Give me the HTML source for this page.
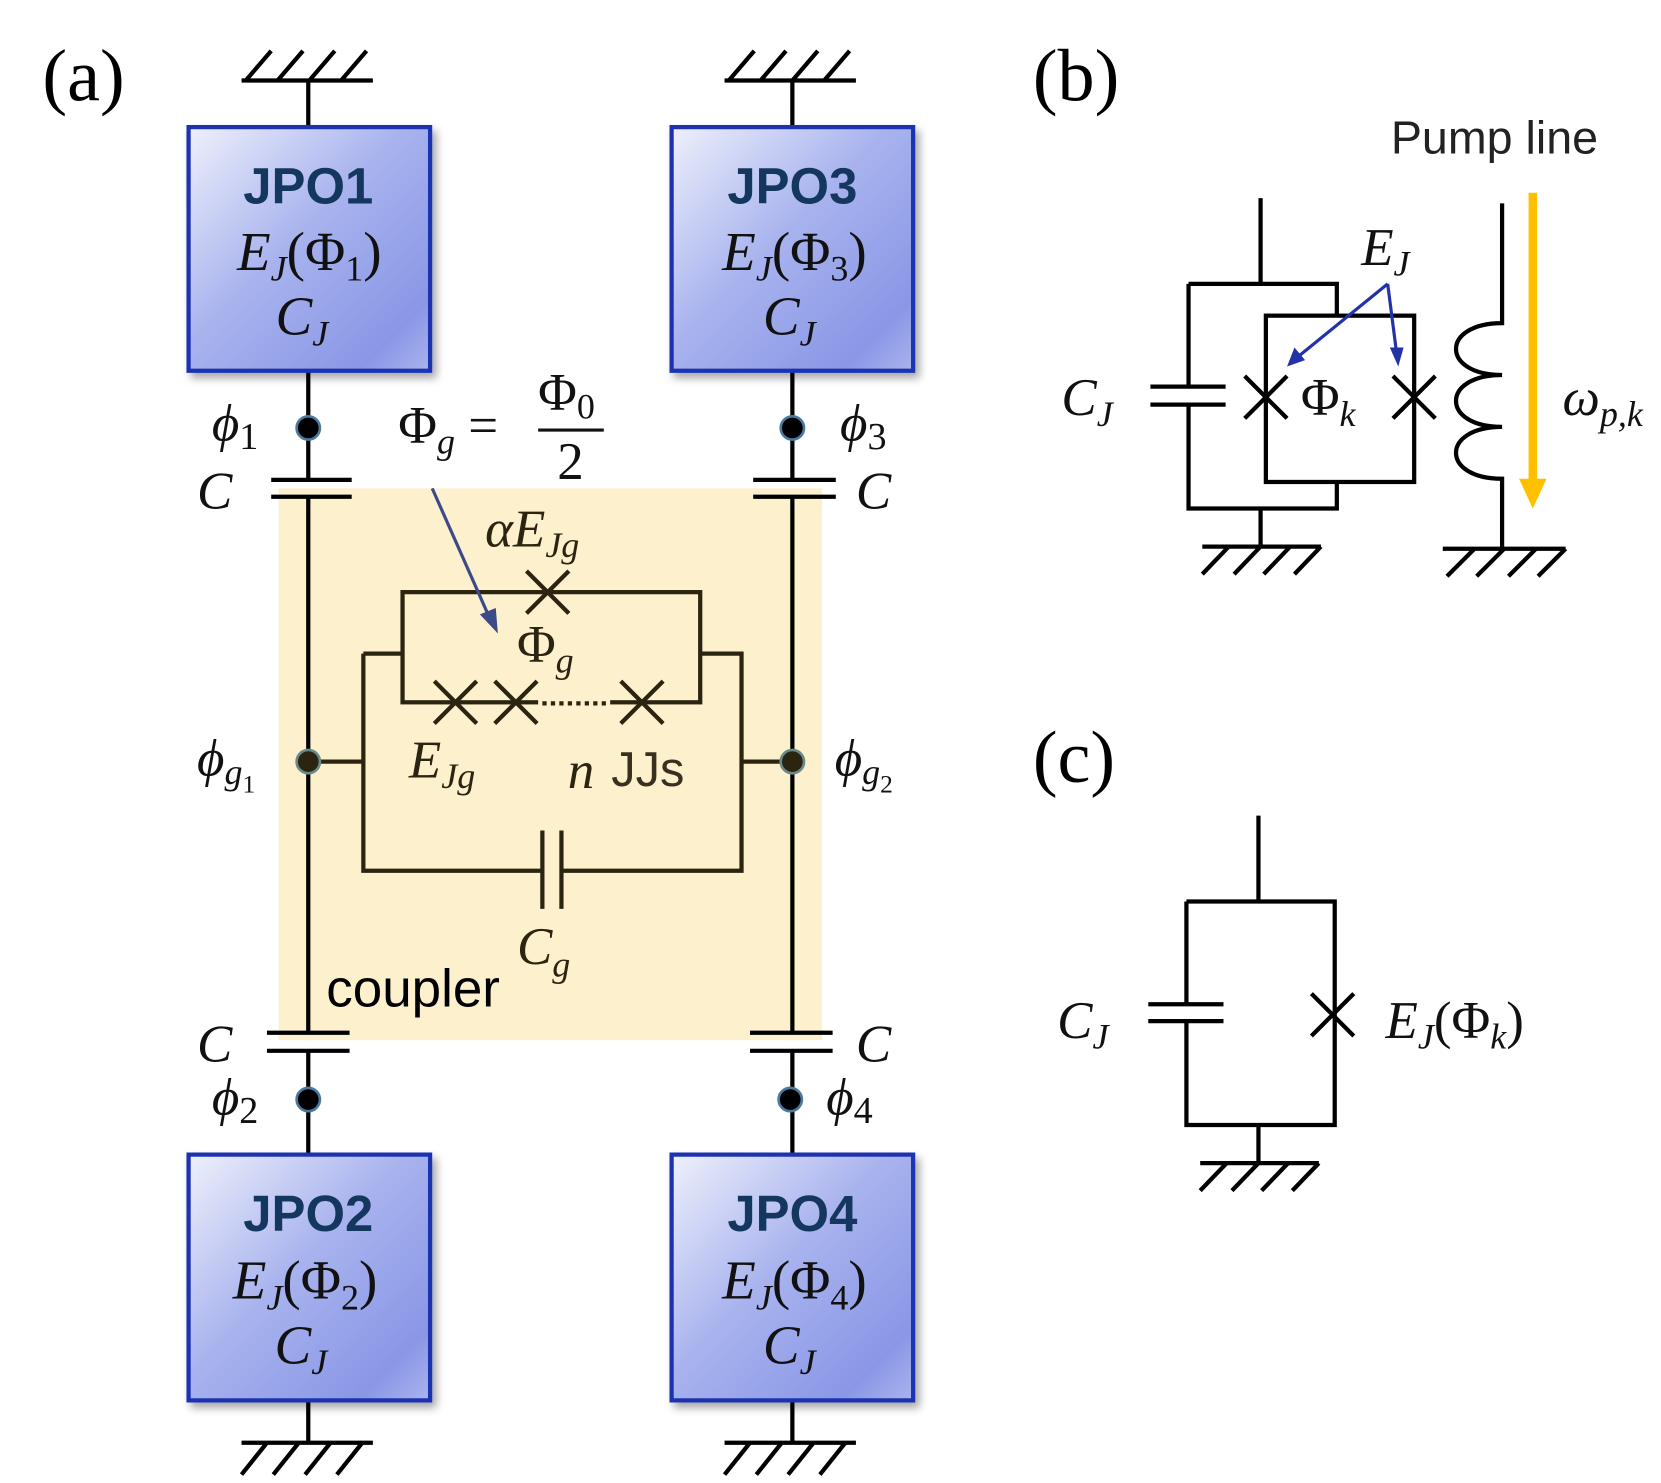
<!DOCTYPE html>
<html><head><meta charset="utf-8"><style>
html,body{margin:0;padding:0;background:#fff;}
svg{display:block;}
.m{font-family:"Liberation Serif",serif;font-style:italic;}
.r{font-family:"Liberation Serif",serif;}
.s{font-family:"Liberation Sans","DejaVu Sans",sans-serif;}
</style></head><body>
<svg width="1661" height="1483" viewBox="0 0 1568 1400" xmlns="http://www.w3.org/2000/svg">
<defs>
<linearGradient id="g" x1="0" y1="0" x2="1" y2="1">
<stop offset="0" stop-color="#eef0fb"/><stop offset="0.45" stop-color="#a8b3ee"/><stop offset="0.85" stop-color="#8a97e6"/><stop offset="1" stop-color="#aab4ee"/>
</linearGradient>
<filter id="sh" x="-10%" y="-10%" width="130%" height="130%"><feDropShadow dx="4" dy="5" stdDeviation="4" flood-color="#000" flood-opacity="0.35"/></filter>
</defs>
<text x="40" y="95" class="r" font-size="70">(a)</text>
<text x="975" y="95" class="r" font-size="70">(b)</text>
<text x="975" y="738" class="r" font-size="70">(c)</text>

<rect x="263" y="461" width="513" height="521" fill="#fdf0cd"/>

<g stroke="#000" stroke-width="4" fill="none">
<path d="M228 76H352M232 76L256 48M262 76L286 48M292 76L316 48M322 76L346 48M291 76V120"/>
<path d="M684 76H808M688 76L712 48M718 76L742 48M748 76L772 48M778 76L802 48M748 76V120"/>
<path d="M228 1362H352M252 1362L228 1392M282 1362L258 1392M312 1362L288 1392M342 1362L318 1392M291 1322V1362"/>
<path d="M684 1362H808M708 1362L684 1392M738 1362L714 1392M768 1362L744 1392M798 1362L774 1392M748 1322V1362"/>
<path d="M291 350V453M256 453H332M256 469H332M291 469V975M252 975H330M252 992H330M291 992V1090"/>
<path d="M748 350V453M711 453H789M711 469H789M748 469V975M708 975H786M708 992H786M748 992V1090"/>
</g>
<g stroke="#2b2410" stroke-width="4" fill="none">
<path d="M291 719H343M343 617H380M343 617V822H512M530 822H700V617H661M700 719H748"/>
<path d="M512 784V858M530 784V858"/>
<rect x="380" y="559" width="281" height="104"/>
<path d="M497 539L537 579M537 539L497 579"/>
<path d="M410 643L450 683M450 643L410 683M467 643L507 683M507 643L467 683M586 643L626 683M626 643L586 683"/>
</g>
<rect x="508" y="660" width="68" height="8" fill="#fdf0cd"/>
<path d="M512 664H574" stroke="#2b2410" stroke-width="4" stroke-dasharray="4,4"/>
<path d="M408 461L462 583" stroke="#3c4a8a" stroke-width="3"/>
<path d="M470 598L453 580L468 574Z" fill="#3c4a8a"/>

<g fill="#000" stroke="#4a7aa0" stroke-width="2.5">
<circle cx="291" cy="404" r="11"/><circle cx="748" cy="404" r="11"/>
<circle cx="291" cy="1038" r="11"/><circle cx="746" cy="1038" r="11"/>
<circle cx="291" cy="719" r="11" fill="#2b2410" stroke="#6a8a8a"/><circle cx="748" cy="719" r="11" fill="#2b2410" stroke="#6a8a8a"/>
</g>

<g filter="url(#sh)" stroke="#1f33b0" stroke-width="4" fill="url(#g)">
<rect x="178" y="120" width="228" height="230"/>
<rect x="634" y="120" width="228" height="230"/>
<rect x="178" y="1090" width="228" height="232"/>
<rect x="634" y="1090" width="228" height="232"/>
</g>
<g text-anchor="middle">
<g class="s" font-weight="bold" font-size="48" fill="#14375f">
<text x="291" y="192">JPO1</text><text x="748" y="192">JPO3</text>
<text x="291" y="1162">JPO2</text><text x="748" y="1162">JPO4</text>
</g>
<g class="m" font-size="52" fill="#111">
<text x="292" y="255">E<tspan font-size="34" dy="10">J</tspan><tspan dy="-10" class="r" font-style="normal">(Φ<tspan font-size="34" dy="10">1</tspan><tspan dy="-10">)</tspan></tspan></text>
<text x="285" y="316">C<tspan font-size="34" dy="10">J</tspan></text>
<text x="750" y="255">E<tspan font-size="34" dy="10">J</tspan><tspan dy="-10" class="r" font-style="normal">(Φ<tspan font-size="34" dy="10">3</tspan><tspan dy="-10">)</tspan></tspan></text>
<text x="745" y="316">C<tspan font-size="34" dy="10">J</tspan></text>
<text x="288" y="1226">E<tspan font-size="34" dy="10">J</tspan><tspan dy="-10" class="r" font-style="normal">(Φ<tspan font-size="34" dy="10">2</tspan><tspan dy="-10">)</tspan></tspan></text>
<text x="284" y="1287">C<tspan font-size="34" dy="10">J</tspan></text>
<text x="750" y="1226">E<tspan font-size="34" dy="10">J</tspan><tspan dy="-10" class="r" font-style="normal">(Φ<tspan font-size="34" dy="10">4</tspan><tspan dy="-10">)</tspan></tspan></text>
<text x="745" y="1287">C<tspan font-size="34" dy="10">J</tspan></text>
</g>
</g>

<g class="m" font-size="50" fill="#111">
<text x="200" y="416">ϕ<tspan class="r" font-style="normal" font-size="36" dy="8">1</tspan></text>
<text x="186" y="480">C</text>
<text x="793" y="416">ϕ<tspan class="r" font-style="normal" font-size="36" dy="8">3</tspan></text>
<text x="808" y="480">C</text>
<text x="186" y="732">ϕ<tspan font-size="34" dy="8">g</tspan><tspan class="r" font-style="normal" font-size="24" dy="8">1</tspan></text>
<text x="788" y="732">ϕ<tspan font-size="34" dy="8">g</tspan><tspan class="r" font-style="normal" font-size="24" dy="8">2</tspan></text>
<text x="186" y="1002">C</text>
<text x="808" y="1002">C</text>
<text x="200" y="1052">ϕ<tspan class="r" font-style="normal" font-size="36" dy="8">2</tspan></text>
<text x="780" y="1052">ϕ<tspan class="r" font-style="normal" font-size="36" dy="8">4</tspan></text>
<text x="376" y="418" class="r" font-style="normal">Φ<tspan class="m" font-size="34" dy="10">g</tspan><tspan dy="-10"> = </tspan></text>
<text x="508" y="387" class="r" font-style="normal">Φ<tspan font-size="34" dy="8">0</tspan></text>
<text x="526" y="452" class="r" font-style="normal">2</text>
</g>
<path d="M508 406H570" stroke="#111" stroke-width="3"/>
<g class="m" font-size="50" fill="#2b2410">
<text x="458" y="516">αE<tspan font-size="34" dy="10">Jg</tspan></text>
<text x="488" y="625" class="r" font-style="normal">Φ<tspan class="m" font-size="34" dy="10">g</tspan></text>
<text x="386" y="734">E<tspan font-size="34" dy="10">Jg</tspan></text>
<text x="536" y="744">n</text>
<text x="488" y="910">C<tspan font-size="34" dy="12">g</tspan></text>
</g>
<text x="577" y="742" class="s" font-size="46" fill="#3a3020">JJs</text>
<text x="308" y="950" class="s" font-size="50" fill="#000">coupler</text>

<text x="1313" y="145" class="s" font-size="44" fill="#222">Pump line</text>
<g stroke="#000" stroke-width="4" fill="none">
<path d="M1190 187V268M1122 268H1262V298M1122 268V365M1086 365H1157M1086 382H1157M1122 382V480H1262V455M1190 480V516M1135 516H1247M1160 516L1135 542M1190 516L1165 542M1218 516L1193 542M1247 516L1222 542"/>
<rect x="1195" y="298" width="140" height="157"/>
<path d="M1175 355L1215 395M1215 355L1175 395M1315 355L1355 395M1355 355L1315 395"/>
<path d="M1418 192V305C1360 305 1360 354 1418 354C1360 354 1360 403 1418 403C1360 403 1360 452 1418 452V518M1362 518H1478M1392 518L1366 544M1420 518L1394 544M1450 518L1424 544M1478 518L1452 544"/>
</g>
<path d="M1447 182V455" stroke="#ffc000" stroke-width="8"/>
<path d="M1434 452H1460L1447 480Z" fill="#ffc000"/>
<g stroke="#2233aa" stroke-width="3" fill="none"><path d="M1310 268L1225 337M1310 268L1318 330"/></g>
<path d="M1215 346L1222 328L1232 340Z M1320 346L1312 328L1325 328Z" fill="#2233aa"/>
<g class="m" font-size="50" fill="#111">
<text x="1002" y="392">C<tspan font-size="34" dy="10">J</tspan></text>
<text x="1285" y="250">E<tspan font-size="34" dy="10">J</tspan></text>
<text x="1228" y="392" class="r" font-style="normal">Φ<tspan class="m" font-size="34" dy="10">k</tspan></text>
<text x="1475" y="392">ω<tspan font-size="34" dy="10">p,k</tspan></text>
</g>

<g stroke="#000" stroke-width="4" fill="none">
<path d="M1188 770V851M1120 851H1260V1062H1120V964M1120 851V948M1084 948H1155M1084 964H1155M1188 1062V1098M1133 1098H1245M1158 1098L1133 1124M1188 1098L1163 1124M1216 1098L1191 1124M1245 1098L1220 1124"/>
<path d="M1238 938L1278 978M1278 938L1238 978"/>
</g>
<g class="m" font-size="50" fill="#111">
<text x="998" y="980">C<tspan font-size="34" dy="10">J</tspan></text>
<text x="1308" y="980">E<tspan font-size="34" dy="10">J</tspan><tspan dy="-10" class="r" font-style="normal">(Φ<tspan class="m" font-size="34" dy="10">k</tspan><tspan dy="-10">)</tspan></tspan></text>
</g>
</svg>
</body></html>
